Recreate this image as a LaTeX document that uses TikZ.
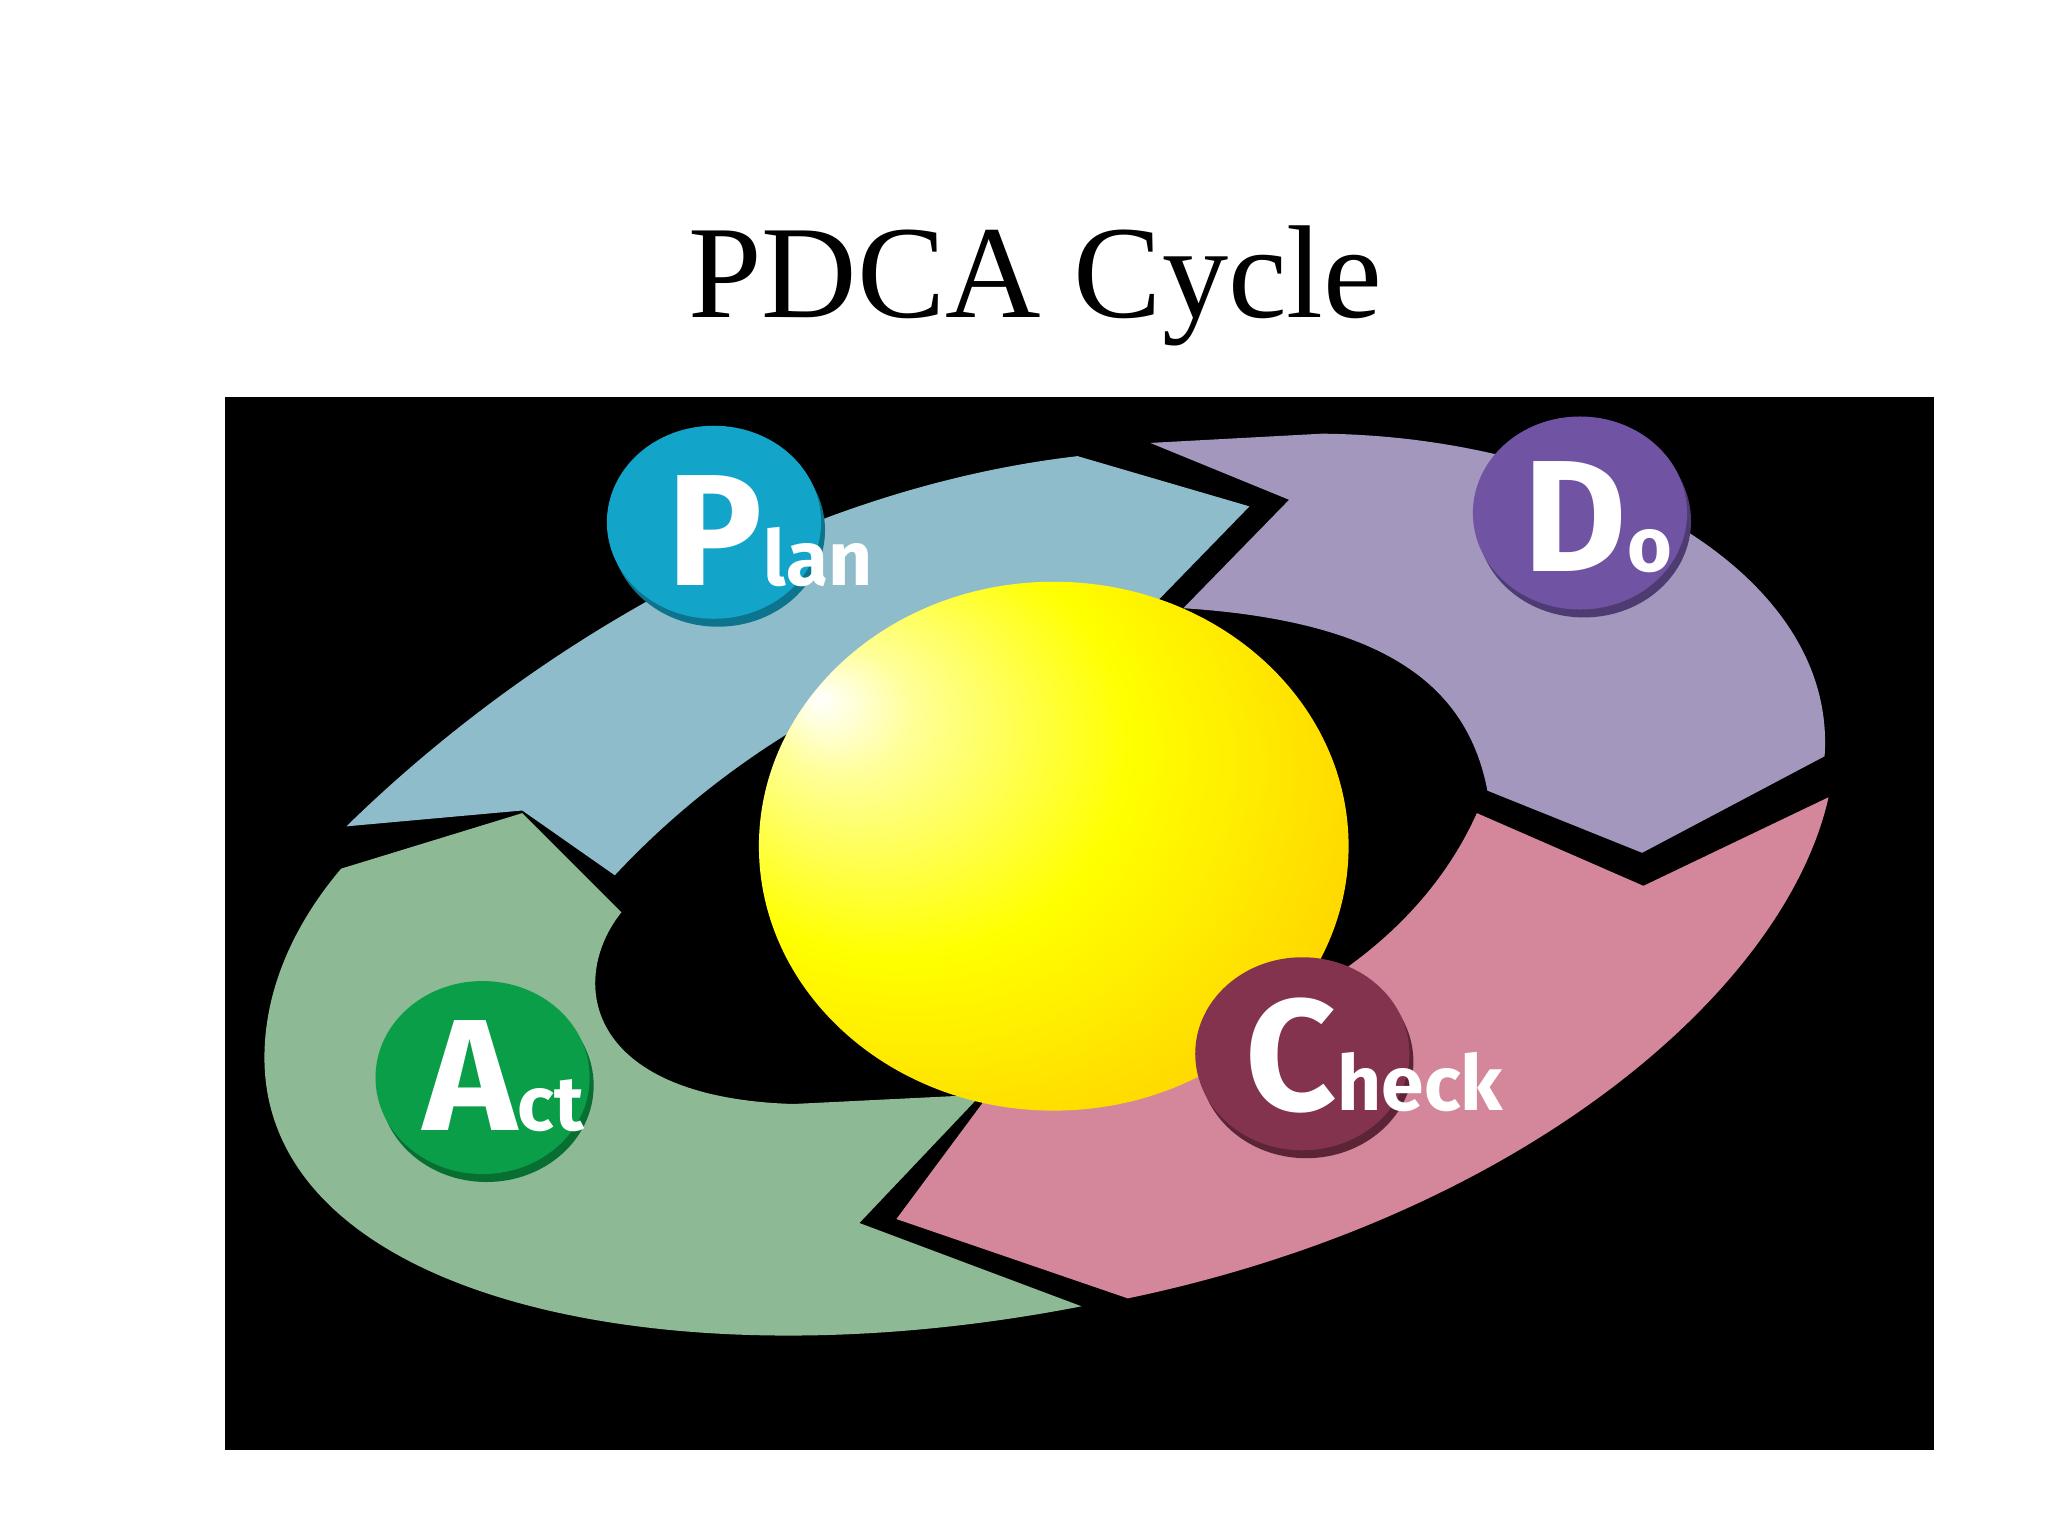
\documentclass[tikz,border=0pt]{standalone}
\usepackage{fontspec}
\setmainfont{Liberation Serif}
\newfontfamily\lblfont{Fira Sans}
\definecolor{planc}{HTML}{8FBCCB}
\definecolor{doc}{HTML}{A497BD}
\definecolor{checkc}{HTML}{D4879A}
\definecolor{actc}{HTML}{8DB994}
\definecolor{planb}{HTML}{12A5C9}
\definecolor{dob}{HTML}{7054A3}
\definecolor{checkb}{HTML}{84334F}
\definecolor{actb}{HTML}{0A9E48}
\pgfdeclareradialshading{sphereshade}{\pgfpoint{-20bp}{14bp}}{color(0bp)=(white);color(6bp)=(yellow!40!white);color(20bp)=(yellow);color(40bp)=(orange!40!yellow);color(62bp)=(orange!90!red)}
\tikzset{
  big/.style={font=\lblfont\bfseries\fontsize{120}{120}\selectfont,text=white,inner sep=0,anchor=base west},
  small/.style={font=\lblfont\bfseries\fontsize{58}{58}\selectfont,text=white,inner sep=0,anchor=base west},
}
\begin{document}
\begin{tikzpicture}[x=1pt,y=-1pt]
\useasboundingbox (0,0) rectangle (1549,1160);
\fill[white] (0,0) rectangle (1549,1160);
\node[font=\fontsize{100}{100}\selectfont,anchor=base] (title) at (783,240) {PDCA Cycle};
\fill[black] (170,300) rectangle (1463,1097);
% arrows
\fill[planc] (262,625) .. controls (400,490) and (600,370) .. (815,345) -- (945,383) -- (875,455) .. controls (700,480) and (560,560) .. (465,662) -- (395,613) -- cycle;
\fill[doc] (870,335) -- (975,378) -- (895,460) .. controls (1050,470) and (1110,520) .. (1125,598) -- (1242,645) -- (1380,572) .. controls (1390,430) and (1200,330) .. (1000,328) -- cycle;
\fill[checkc] (1383,603) -- (1243,670) -- (1117,615) .. controls (1070,720) and (950,800) .. (750,825) -- (678,922) -- (853,982) .. controls (1150,920) and (1350,750) .. cycle;
\fill[actc] (258,657) -- (395,615) -- (470,690) .. controls (430,740) and (440,830) .. (600,835) -- (742,828) -- (650,925) -- (818,988) .. controls (500,1050) and (200,980) .. (200,800) .. controls (200,740) and (230,690) .. cycle;
% sphere
\shade[shading=sphereshade] (797,640) ellipse [x radius=223, y radius=200];
% badges
\foreach \cx/\cy/\c in {540/395/planb,1195/388/dob,985/797/checkb,365/815/actb}{
  \fill[\c!70!black] (\cx+3,\cy+6) ellipse [x radius=81, y radius=73];
  \fill[\c] (\cx,\cy) ellipse [x radius=81, y radius=73];
}
% labels
\node[big] (p) at (505,443) {P};
\node[small] (lan) at (p.base east) {lan};
\node[big] (d) at (1152,432) {D};
\node[small] (o) at (d.base east) {o};
\node[big] (c) at (942,840) {C};
\node[small] (heck) at (c.base east) {heck};
\node[big] (a) at (320,855) {A};
\node[small] (ct) at (a.base east) {ct};
\end{tikzpicture}
\end{document}
